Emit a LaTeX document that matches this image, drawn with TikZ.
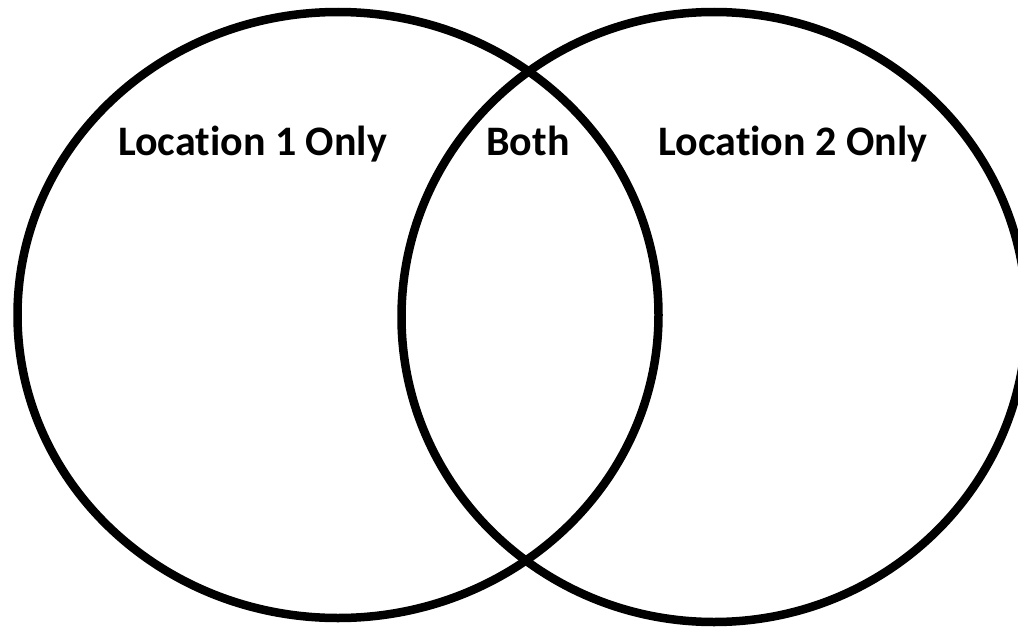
\documentclass[tikz,border=0pt]{standalone}
\usepackage{fontspec}
\setmainfont[Ligatures=NoCommon]{Carlito}
\begin{document}
\begin{tikzpicture}[x=1pt,y=-1pt,
  setring/.style={draw=black,line width=8.5pt},
  setlabel/.style={font=\fontsize{42}{50}\selectfont\bfseries,anchor=base,inner sep=0pt}]
\useasboundingbox[fill=white] (0,0) rectangle (1018,629);
\draw[setring] (338,315) ellipse [x radius=320.5, y radius=303];
\draw[setring] (714,317) ellipse [x radius=312.5, y radius=305];
\node[setlabel] (l1) at (252.5,155) {Location 1 Only};
\node[setlabel] (both) at (528,155) {Both};
\node[setlabel] (l2) at (793,155) {Location 2 Only};
\end{tikzpicture}
\end{document}
